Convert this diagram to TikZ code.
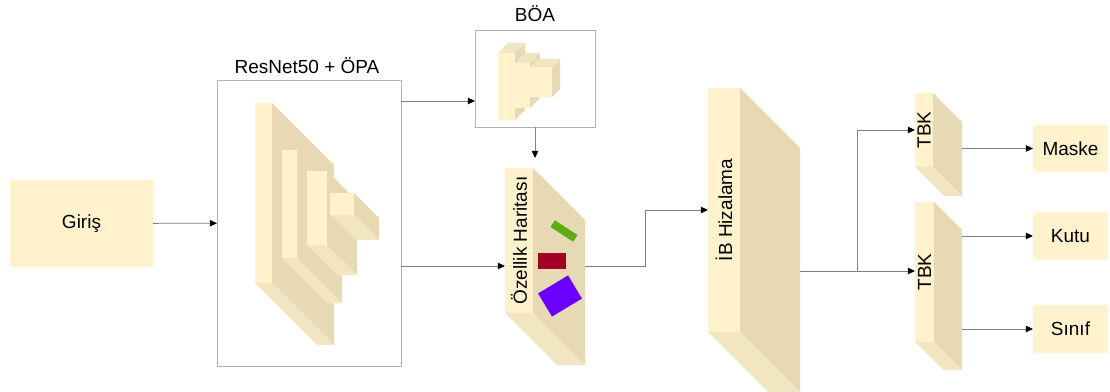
\documentclass[tikz,border=0pt]{standalone}
\usepackage{fontspec}
\setmainfont{Liberation Sans}
\usetikzlibrary{arrows.meta}
\newcommand{\px}{0.025cm}
\definecolor{facefront}{HTML}{FFF2CC}
\definecolor{faceside}{HTML}{E8D9B5}
\definecolor{facebottom}{HTML}{F2E5C2}
\definecolor{framegray}{HTML}{B3B3B3}
\definecolor{linegray}{HTML}{808080}
\definecolor{markgreen}{HTML}{60A917}
\definecolor{markred}{HTML}{A20025}
\definecolor{markviolet}{HTML}{6A00FF}
\tikzset{
  every node/.style={font=\fontsize{13.5}{16}\selectfont},
  wh/.style 2 args={minimum width=#1*\px, minimum height=#2*\px},
  front/.style={fill=facefront, inner sep=0pt, outer sep=0pt},
  frame/.style={draw=framegray, fill=white, line width=0.6pt, inner sep=0pt, outer sep=0pt},
  tag/.style={inner sep=0pt, outer sep=0pt},
  flow/.style={draw=linegray, line width=0.6pt, -{Triangle[length=5pt,width=4.5pt,color=black]}},
}
% faces behind a slab, going down and to the right
\newcommand{\slabdepth}[2]{%
  \fill[faceside] (#1.north east) -- ++(#2,#2) -- ([shift={(#2,#2)}]#1.south east) -- (#1.south east) -- cycle;
  \fill[facebottom] (#1.south west) -- (#1.south east) -- ++(#2,#2) -- ([shift={(#2,#2)}]#1.south west) -- cycle;
}
% faces of a small block, going up and to the right
\newcommand{\blockdepth}[2]{%
  \fill[facebottom] (#1.north west) -- ++(#2,-#2) -- ([shift={(#2,-#2)}]#1.north east) -- (#1.north east) -- cycle;
  \fill[faceside] (#1.north east) -- ++(#2,-#2) -- ([shift={(#2,-#2)}]#1.south east) -- (#1.south east) -- cycle;
}
\begin{document}
\begin{tikzpicture}[x=\px, y=-\px]
  \useasboundingbox (0,0) rectangle (1110,392);

  % input
  \node[front, wh={143}{87}] (giris) at (81.5,223.5) {Giriş};

  % backbone
  \node[frame, wh={184}{286}] (resnet) at (309,223) {};
  \node (resnettitle) at (307,66) {ResNet50 + ÖPA};
  \node[front, wh={17}{180}] (slabA) at (263.5,193) {};
  \slabdepth{slabA}{62}
  \node[front, wh={15}{108}] (slabB) at (289.5,204) {};
  \slabdepth{slabB}{45}
  \node[front, wh={20}{74}] (slabC) at (317,208) {};
  \slabdepth{slabC}{30}
  \node[front, wh={24}{22}] (slabD) at (342,204) {};
  \slabdepth{slabD}{25}

  % pyramid
  \node[frame, wh={120}{97}] (boa) at (535,78.5) {};
  \node (boatitle) at (535,14) {BÖA};
  \node[front, wh={17}{67}] (blockA) at (506.5,86.5) {};
  \blockdepth{blockA}{10}
  \node[front, wh={15}{45}] (blockB) at (522.5,85.5) {};
  \blockdepth{blockB}{10}
  \node[front, wh={22}{30}] (blockC) at (541,82) {};
  \blockdepth{blockC}{8}

  % feature map
  \node[front, wh={28}{145}] (fmap) at (519,240.5) {};
  \slabdepth{fmap}{52}
  \node[rotate=90] (fmaptext) at (fmap) {Özellik Haritası};
  \node[tag, fill=markgreen, wh={27}{8}, rotate=-33] (mgreen) at (564,231) {};
  \node[tag, fill=markred, wh={28}{16}] (mred) at (552,261) {};
  \node[tag, fill=markviolet, wh={35}{27}, rotate=31] (mviolet) at (560,296) {};

  % alignment
  \node[front, wh={32}{244}] (ib) at (724,210) {};
  \slabdepth{ib}{60}
  \node[rotate=90] (ibtext) at (ib) {İB Hizalama};

  % heads
  \node[front, wh={18}{74}] (tbkA) at (924,130) {};
  \slabdepth{tbkA}{29}
  \node[rotate=90] (tbkAtext) at (tbkA) {TBK};
  \node[front, wh={19}{140}] (tbkB) at (924.5,272) {};
  \slabdepth{tbkB}{28}
  \node[rotate=90] (tbkBtext) at (tbkB) {TBK};

  % outputs
  \node[front, wh={75}{47}] (maske) at (1070.5,148.5) {Maske};
  \node[front, wh={75}{48}] (kutu) at (1070.5,236) {Kutu};
  \node[front, wh={75}{48}] (sinif) at (1070.5,329) {Sınıf};

  % connectors
  \coordinate (fmapout) at (585,266);
  \coordinate (ibout) at (800,271);
  \coordinate (split) at (857,271);
  \draw[flow] (giris) -- (resnet);
  \draw[flow] (resnet.east |- 0,101) -- (boa.west |- 0,101);
  \draw[flow] (resnet.east |- 0,266) -- (fmap.west |- 0,266);
  \draw[flow] (boa.south) -- (boa.south |- 0,158);
  \draw[flow] (fmapout) -- (645,266) |- (ib.west);
  \draw[flow] (ibout) -- (tbkB.west |- ibout);
  \draw[flow] (split) |- (tbkA.west);
  \draw[flow] (962,148.5) -- (maske.west);
  \draw[flow] (962,236) -- (kutu.west);
  \draw[flow] (962,329) -- (sinif.west);
\end{tikzpicture}
\end{document}
